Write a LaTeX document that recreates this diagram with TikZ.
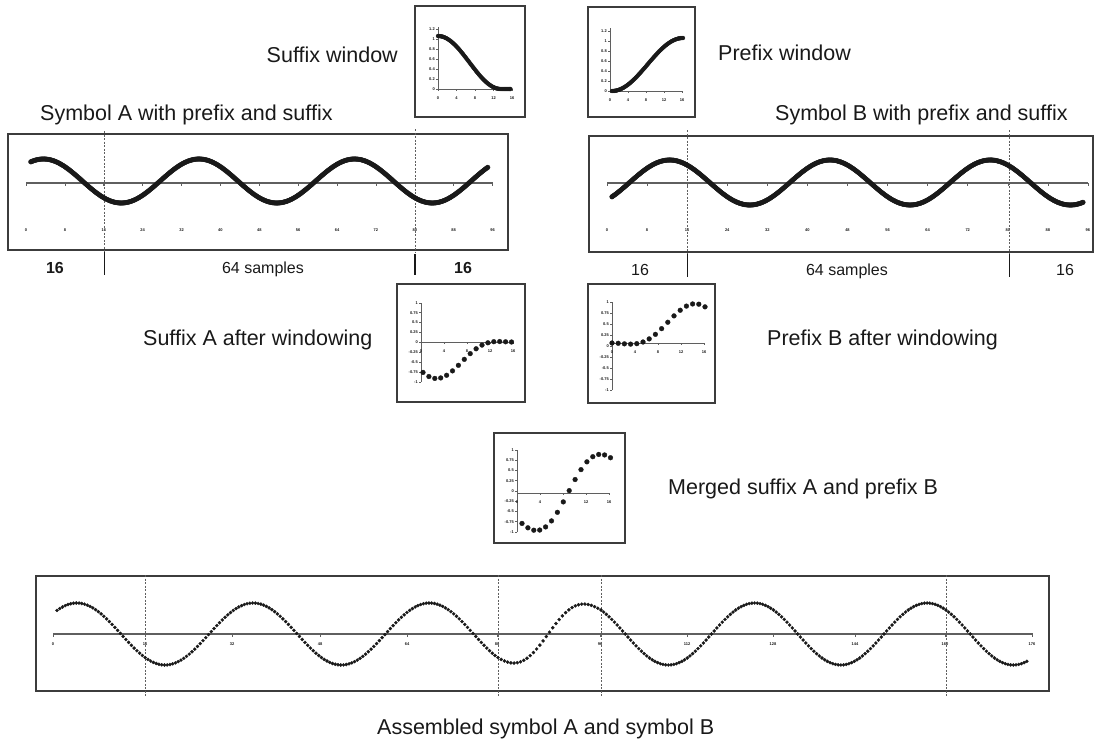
\documentclass[tikz,border=0pt]{standalone}
\usepackage{fontspec}
\setmainfont{Liberation Sans}
\usepackage{tikz}
\definecolor{InkGray}{RGB}{25,25,25}
\definecolor{FrameGray}{RGB}{60,60,60}
\definecolor{GuideGray}{RGB}{95,95,95}
\begin{document}
\begin{tikzpicture}[
  x=1pt,y=-1pt,
  panelbox/.style={draw=FrameGray,line width=1.8pt,inner sep=0pt},
  lbl/.style={text=InkGray,font=\fontsize{21.5}{24}\selectfont,inner sep=0pt,anchor=base west},
  cnt/.style={text=InkGray,font=\fontsize{16}{18}\selectfont,inner sep=0pt,anchor=base},
  ticklbl/.style={text=InkGray,font=\fontsize{4}{4}\selectfont\bfseries,inner sep=0pt,anchor=base},
  axisline/.style={draw=GuideGray,line width=1.3pt},
  minor/.style={draw=GuideGray,line width=0.6pt},
  guideline/.style={draw=GuideGray,line width=0.7pt,dash pattern=on 2pt off 1.5pt},
  sepline/.style={draw=InkGray,line width=#1},
  dotplot/.style={draw=InkGray,fill=InkGray,line width=0.3pt,only marks,mark=*,mark size=#1}
]
  \useasboundingbox (0,0) rectangle (1096,744);

  \node[panelbox,minimum width=500,minimum height=116] (symA) at (258,192) {};
  \node[panelbox,minimum width=504,minimum height=116] (symB) at (841,194) {};
  \node[panelbox,minimum width=110,minimum height=111] (sufwin) at (470,61.5) {};
  \node[panelbox,minimum width=107,minimum height=110] (prewin) at (641.5,62) {};
  \node[panelbox,minimum width=128,minimum height=118] (sufA) at (461,343) {};
  \node[panelbox,minimum width=127,minimum height=119] (preB) at (651.5,343.5) {};
  \node[panelbox,minimum width=131,minimum height=110] (merged) at (559.5,488) {};
  \node[panelbox,minimum width=1013,minimum height=115] (asm) at (542.5,633.5) {};

  \node[lbl] (symAlbl) at (40,120) {Symbol A with prefix and suffix};
  \node[lbl] (symBlbl) at (775,120) {Symbol B with prefix and suffix};
  \node[lbl,anchor=base east] (sufwinlbl) at (398,62) {Suffix window};
  \node[lbl] (prewinlbl) at (718,60) {Prefix window};
  \node[lbl] (sufAlbl) at (143,345) {Suffix A after windowing};
  \node[lbl] (preBlbl) at (767,345) {Prefix B after windowing};
  \node[lbl] (mergedlbl) at (668,494) {Merged suffix A and prefix B};
  \node[lbl] (asmlbl) at (377,734) {Assembled symbol A and symbol B};

  \node[cnt,font=\fontsize{16}{18}\selectfont\bfseries] (cA1) at (55,273) {16};
  \node[cnt] (cA2) at (263,273) {64 samples};
  \node[cnt,font=\fontsize{16}{18}\selectfont\bfseries] (cA3) at (463,273) {16};
  \node[cnt] (cB1) at (640,275) {16};
  \node[cnt] (cB2) at (847,275) {64 samples};
  \node[cnt] (cB3) at (1065,275) {16};

  \draw[axisline] (26,183) -- (493,183);
  \foreach \lab [count=\m from 0] in {0,8,...,96}{
    \draw[minor] ({26+38.88*\m},183) -- ++(0,2.5);
    \node[ticklbl] (tA\m) at ({26+38.88*\m},231) {\lab};
  }
  \draw[guideline] (104,131) -- (104,252);
  \draw[sepline=1pt] (104,252) -- (104,275);
  \draw[guideline] (415,129) -- (415,252);
  \draw[sepline=1.8pt] (415,254) -- (415,275);
  \draw[dotplot=2.4] plot[domain=1:95,samples=377] ({26+4.86*\x},{181-22*cos(11.25*(\x-3.6))});

  \draw[axisline] (607,183) -- (1088,183);
  \foreach \lab [count=\m from 0] in {0,8,...,96}{
    \draw[minor] ({607+40.08*\m},183) -- ++(0,2.5);
    \node[ticklbl] (tB\m) at ({607+40.08*\m},231) {\lab};
  }
  \draw[guideline] (687,130) -- (687,254);
  \draw[sepline=1pt] (687,254) -- (687,277);
  \draw[guideline] (1009,130) -- (1009,254);
  \draw[sepline=1pt] (1009,254) -- (1009,277);
  \draw[dotplot=2.4] plot[domain=1:95,samples=377] ({607+5.01*\x},{182.5-22.5*cos(11.25*(\x-12.5))});

  \draw[axisline,line width=1pt] (438,27) -- (438,89) -- (513,89);
  \foreach \v [count=\k from 0] in {0,0.2,0.4,0.6,0.8,1,1.2}{
    \draw[minor] (438,{89-10*\k}) -- ++(-2,0);
    \node[ticklbl,anchor=east] (swy\k) at (435,{89-10*\k}) {\v};
  }
  \foreach \v [count=\k from 0] in {0,4,8,12,16}{
    \draw[minor] ({438+18.5*\k},89) -- ++(0,2);
    \node[ticklbl] (swx\k) at ({438+18.5*\k},99) {\v};
  }
  \draw[dotplot=2] plot[domain=0:1.15,samples=70] ({438+63*\x},{89-53*0.5*(1+cos(180*min(\x,1)))});

  \draw[axisline,line width=1pt] (610,28) -- (610,91) -- (682,91);
  \foreach \v [count=\k from 0] in {0,0.2,0.4,0.6,0.8,1,1.2}{
    \draw[minor] (610,{91-10*\k}) -- ++(-2,0);
    \node[ticklbl,anchor=east] (pwy\k) at (607,{91-10*\k}) {\v};
  }
  \foreach \v [count=\k from 0] in {0,4,8,12,16}{
    \draw[minor] ({610+18*\k},91) -- ++(0,2);
    \node[ticklbl] (pwx\k) at ({610+18*\k},101) {\v};
  }
  \draw[dotplot=2] plot[domain=0:1,samples=64] ({612+71*\x},{91-53*0.5*(1-cos(180*\x))});

  \draw[axisline,line width=1pt] (421,303) -- (421,382);
  \draw[axisline,line width=1pt] (421,342) -- (513,342);
  \foreach \v [count=\k from 0] in {-1,-0.75,-0.5,-0.25,0,0.25,0.5,0.75,1}{
    \draw[minor] (421,{382-9.9*\k}) -- ++(-2,0);
    \node[ticklbl,anchor=east] (say\k) at (418,{382-9.9*\k}) {\v};
  }
  \foreach \v [count=\k from 0] in {0,4,8,12,16}{
    \draw[minor] ({421+23*\k},342) -- ++(0,2);
    \node[ticklbl] (sax\k) at ({421+23*\k},352) {\v};
  }
  \draw[dotplot=2.4] plot[domain=0:15,samples=16] ({423+5.9*\x},{342-40*cos(11.25*(\x+76.4))*0.5*(1+cos(12*\x))});

  \draw[axisline,line width=1pt] (612,302) -- (612,390);
  \draw[axisline,line width=1pt] (612,343) -- (705,343);
  \foreach \v [count=\k from 0] in {-1,-0.75,-0.5,-0.25,0,0.25,0.5,0.75,1}{
    \draw[minor] (612,{390-11*\k}) -- ++(-2,0);
    \node[ticklbl,anchor=east] (pby\k) at (609,{390-11*\k}) {\v};
  }
  \foreach \v [count=\k from 0] in {0,4,8,12,16}{
    \draw[minor] ({612+23*\k},343) -- ++(0,2);
    \node[ticklbl] (pbx\k) at ({612+23*\k},353) {\v};
  }
  \draw[dotplot=2.4] plot[domain=0:15,samples=16] ({612+6.2*\x},{343-41*cos(11.25*(\x-12.5))*0.5*(1-cos(12*\x))});

  \draw[axisline,line width=1pt] (517,450) -- (517,532);
  \draw[axisline,line width=1pt] (517,493) -- (610,493);
  \foreach \v [count=\k from 0] in {-1,-0.75,-0.5,-0.25,0,0.25,0.5,0.75,1}{
    \draw[minor] (517,{532-10.25*\k}) -- ++(-2,0);
    \node[ticklbl,anchor=east] (mgy\k) at (514,{532-10.25*\k}) {\v};
  }
  \foreach \v [count=\k from 0] in {0,4,8,12,16}{
    \draw[minor] ({517+23*\k},493) -- ++(0,2);
    \node[ticklbl] (mgx\k) at ({517+23*\k},503) {\v};
  }
  \draw[dotplot=2.4] plot[domain=0:15,samples=16] ({522+5.9*\x},{493-40*(cos(11.25*(\x+76.4))*0.5*(1+cos(12*\x))+cos(11.25*(\x-12.5))*0.5*(1-cos(12*\x)))});

  \draw[axisline] (53,634) -- (1033,634);
  \foreach \px/\lab [count=\m] in {53/0,145/16,232/32,320/48,407/64,497/80,600/96,687/112,773/128,855/144,945/160,1032/176}{
    \draw[minor] (\px,634) -- ++(0,2.5);
    \node[ticklbl] (tS\m) at (\px,645) {\lab};
  }
  \foreach \px in {145,498,601,946}{
    \draw[guideline] (\px,575) -- (\px,697);
  }
  \draw[dotplot=1.6] plot[domain=0:79.5,samples=160] ({57+5.51*\x},{634-31*cos(11.25*(\x-3.6))});
  \draw[dotplot=1.6] plot[domain=0:15.5,samples=32] ({498+6.44*\x},{634-31*(cos(11.25*(\x+76.4))*0.5*(1+cos(12*\x))+cos(11.25*(\x-12.5))*0.5*(1-cos(12*\x)))});
  \draw[dotplot=1.6] plot[domain=16:95,samples=159] ({601+5.39*(\x-16)},{634-31*cos(11.25*(\x-12.5))});
\end{tikzpicture}
\end{document}
